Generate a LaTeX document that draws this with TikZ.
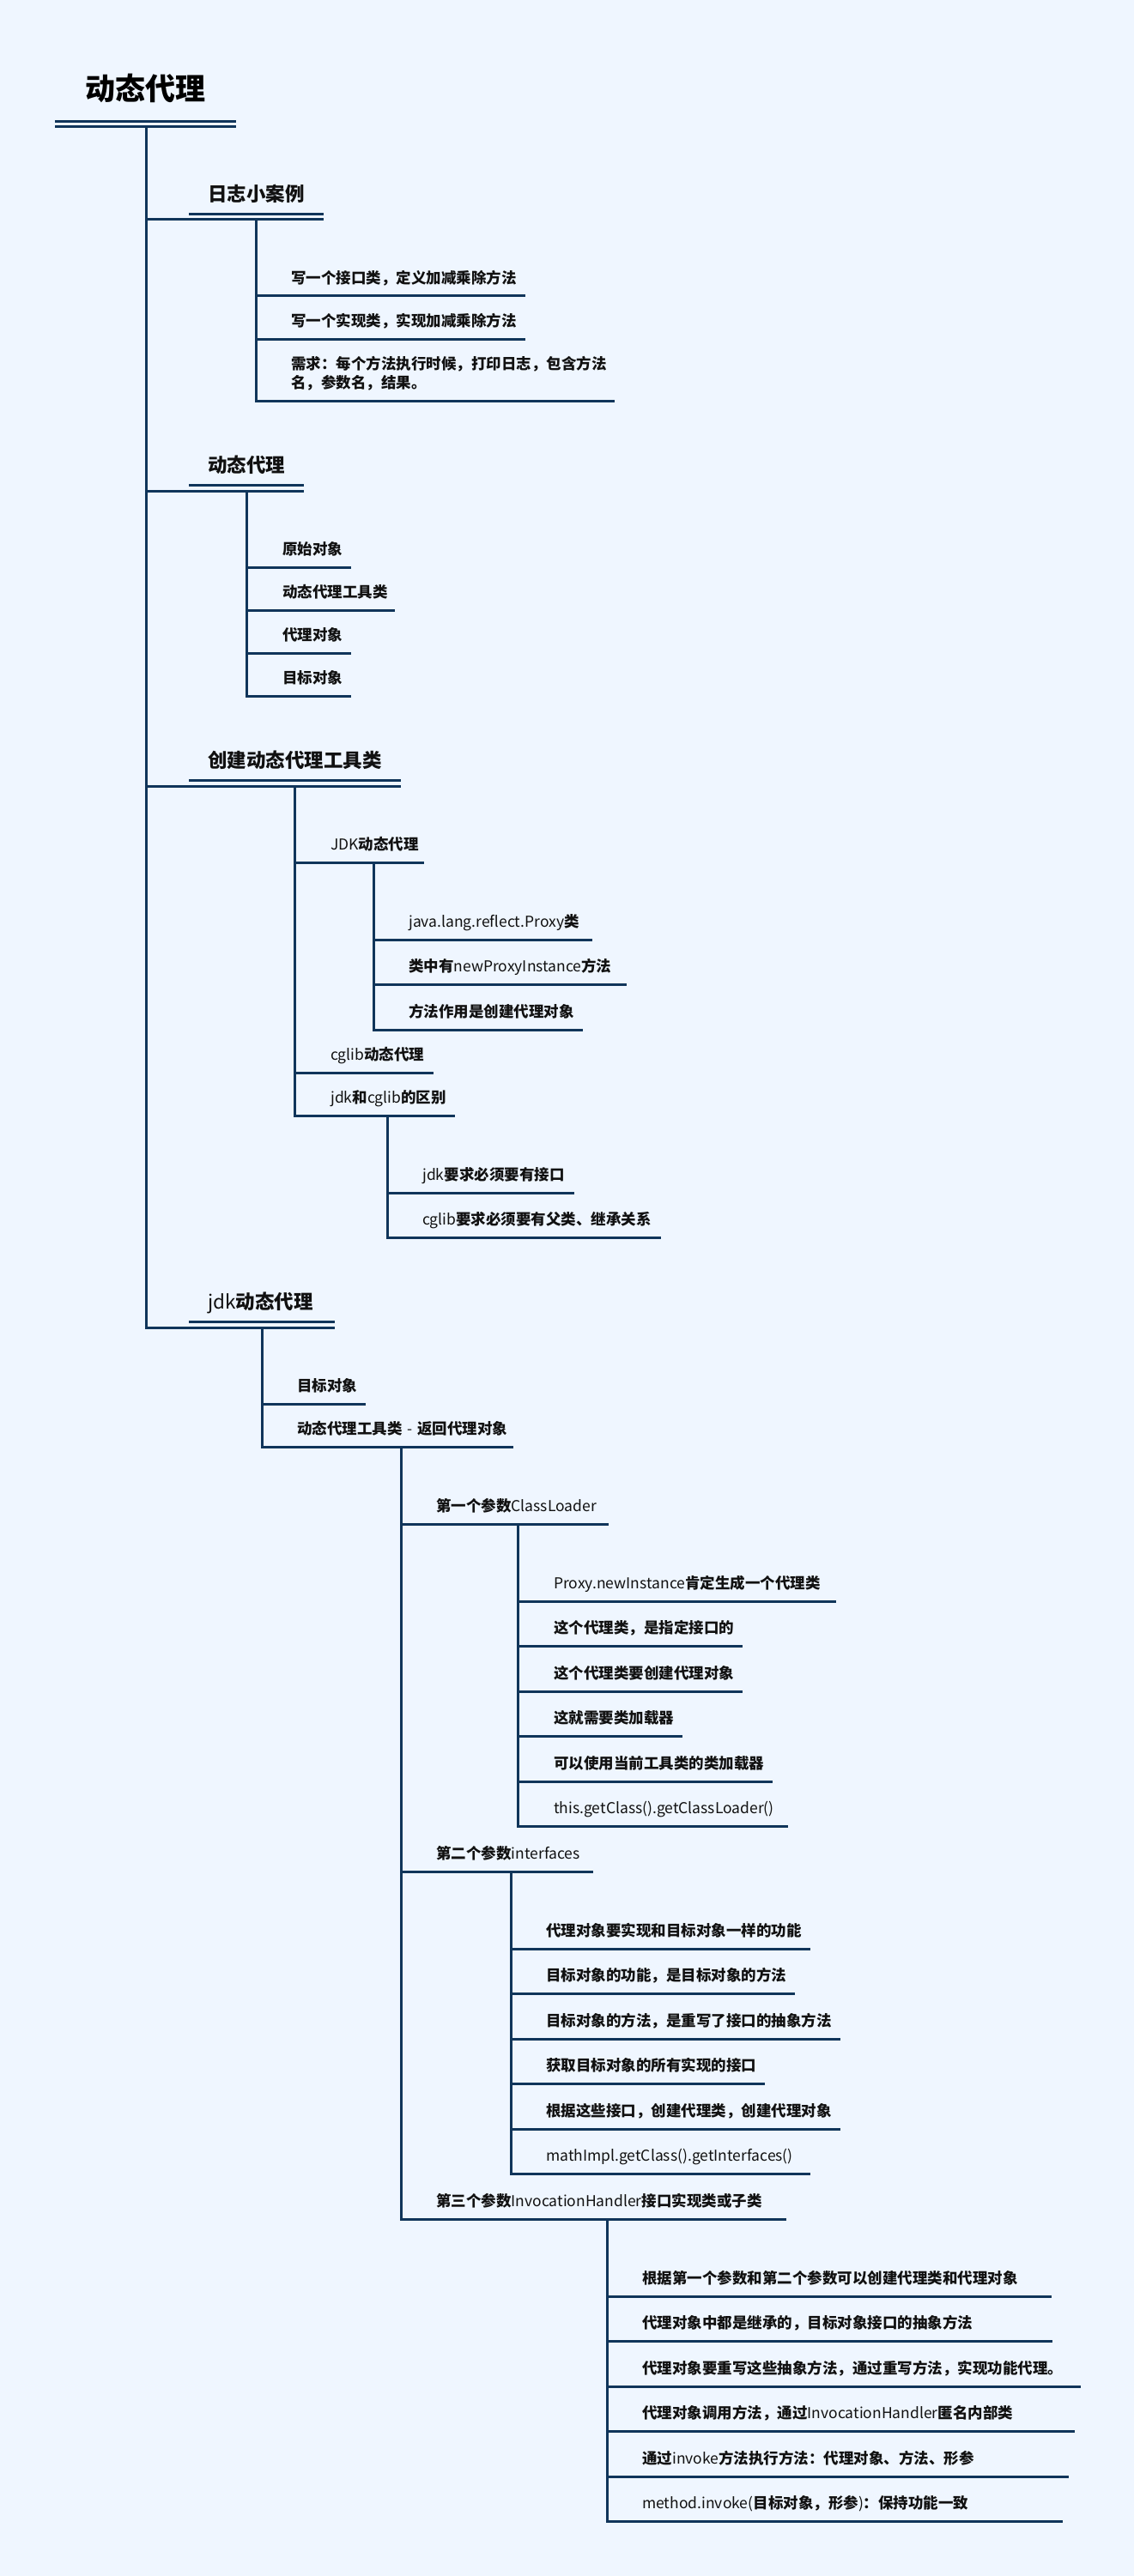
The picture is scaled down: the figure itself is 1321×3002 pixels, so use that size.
\documentclass[tikz,border=0pt]{standalone}
\usepackage{fontspec}
\newfontfamily\cjk{Noto Sans CJK SC}
\definecolor{bgc}{HTML}{EFF6FF}
\definecolor{linec}{HTML}{10355A}
\definecolor{txtc}{HTML}{111111}
\newcommand\ltn[1]{{\mdseries #1}}
\tikzset{
  conn/.style={draw=linec, line width=3pt},
  leafsty/.style={font=\cjk\bfseries\fontsize{17.5}{22}\selectfont, text=txtc,
    inner xsep=10pt, inner ysep=10pt, text depth=4pt, align=left, anchor=south west},
  secsty/.style={font=\cjk\bfseries\fontsize{22.5}{27}\selectfont, text=txtc,
    inner xsep=22pt, inner ysep=17.5pt, text depth=4pt, align=left, anchor=south west},
  rootsty/.style={font=\cjk\bfseries\fontsize{35}{40}\selectfont, text=black,
    inner xsep=35pt, inner ysep=27pt, text depth=4pt, align=left, anchor=south west}
}
% leaf: name, x-left, x-right, y of underline, text, extra lift of the text block
\newcommand\mmleafx[6]{%
  \pgfmathsetmacro\mmtw{#3-#2-20}%
  \node[leafsty, text width=\mmtw pt] (#1) at (#2,#4-#6) {#5};
  \coordinate (#1L) at ([yshift=-#6pt]#1.south west);
  \coordinate (#1R) at ([yshift=-#6pt]#1.south east);
  \draw[conn] (#1L) -- (#1R);}
\newcommand\mmleaf[5]{\mmleafx{#1}{#2}{#3}{#4}{#5}{0}}
% double-underlined heading: style, name, x-left, x-right, y, text, 2*xsep
\newcommand\mmhead[7]{%
  \pgfmathsetmacro\mmtw{#4-#3-#7}%
  \node[#1, text width=\mmtw pt] (#2) at (#3,#5) {#6};
  \coordinate (#2L) at (#2.south west);
  \draw[conn] (#2.south west) -- (#2.south east);
  \draw[conn] ([yshift=6.5pt]#2.south west) -- ([yshift=6.5pt]#2.south east);}
\begin{document}
\begin{tikzpicture}[x=1pt,y=-1pt]
\fill[bgc] (0,0) rectangle (1321,3002);
\useasboundingbox (0,0) rectangle (1321,3002);

% root
\mmhead{rootsty}{root}{64}{275}{148}{动态代理}{70}
\coordinate (rootv) at (170,148);

% level 1
\mmhead{secsty}{A}{220}{377}{256}{日志小案例}{44}
\mmhead{secsty}{B}{220}{354}{572}{动态代理}{44}
\mmhead{secsty}{C}{220}{467}{916}{创建动态代理工具类}{44}
\mmhead{secsty}{D}{220}{390}{1547}{\ltn{jdk}动态代理}{44}
\foreach \n in {A,B,C,D} \draw[conn] (rootv) |- (\n L);

% A
\coordinate (Av) at (298,256);
\mmleaf{a1}{329}{612}{345}{写一个接口类，定义加减乘除方法}
\mmleaf{a2}{329}{612}{395}{写一个实现类，实现加减乘除方法}
\mmleafx{a3}{329}{716}{467}{需求：每个方法执行时候，打印日志，包含方法\\名，参数名，结果。}{22}
\foreach \n in {a1,a2,a3} \draw[conn] (Av) |- (\n L);

% B
\coordinate (Bv) at (287,572);
\mmleaf{b1}{319}{409}{661}{原始对象}
\mmleaf{b2}{319}{460}{711}{动态代理工具类}
\mmleaf{b3}{319}{409}{761}{代理对象}
\mmleaf{b4}{319}{409}{811}{目标对象}
\foreach \n in {b1,b2,b3,b4} \draw[conn] (Bv) |- (\n L);

% C
\coordinate (Cv) at (343,916);
\mmleaf{c1}{375}{494}{1005}{\ltn{JDK}动态代理}
\mmleaf{c2}{375}{505}{1250}{\ltn{cglib}动态代理}
\mmleaf{c3}{375}{530}{1300}{\ltn{jdk}和\ltn{cglib}的区别}
\foreach \n in {c1,c2,c3} \draw[conn] (Cv) |- (\n L);

\coordinate (C1v) at (435,1005);
\mmleaf{c11}{466}{690}{1095}{\ltn{java.lang.reflect.Proxy}类}
\mmleaf{c12}{466}{730}{1147}{类中有\ltn{newProxyInstance}方法}
\mmleaf{c13}{466}{679}{1200}{方法作用是创建代理对象}
\foreach \n in {c11,c12,c13} \draw[conn] (C1v) |- (\n L);

\coordinate (C3v) at (451,1300);
\mmleaf{c31}{482}{669}{1390}{\ltn{jdk}要求必须要有接口}
\mmleaf{c32}{482}{770}{1442}{\ltn{cglib}要求必须要有父类、继承关系}
\foreach \n in {c31,c32} \draw[conn] (C3v) |- (\n L);

% D
\coordinate (Dv) at (305,1547);
\mmleaf{d1}{336}{426}{1636}{目标对象}
\mmleaf{d2}{336}{598}{1686}{\mbox{动态代理工具类 \ltn{-} 返回代理对象}}
\foreach \n in {d1,d2} \draw[conn] (Dv) |- (\n L);

\coordinate (D2v) at (467,1686);
\mmleaf{d21}{498}{709}{1776}{第一个参数\ltn{ClassLoader}}
\mmleaf{d22}{498}{691}{2181}{第二个参数\ltn{interfaces}}
\mmleaf{d23}{498}{916}{2586}{第三个参数\ltn{InvocationHandler}接口实现类或子类}
\foreach \n in {d21,d22,d23} \draw[conn] (D2v) |- (\n L);

\coordinate (D21v) at (603,1776);
\mmleaf{e1}{635}{974}{1866}{\ltn{Proxy.newInstance}肯定生成一个代理类}
\mmleaf{e2}{635}{865}{1918}{这个代理类，是指定接口的}
\mmleaf{e3}{635}{865}{1971}{这个代理类要创建代理对象}
\mmleaf{e4}{635}{795}{2023}{这就需要类加载器}
\mmleaf{e5}{635}{900}{2076}{可以使用当前工具类的类加载器}
\mmleaf{e6}{635}{918}{2128}{\ltn{this.getClass().getClassLoader()}}
\foreach \n in {e1,e2,e3,e4,e5,e6} \draw[conn] (D21v) |- (\n L);

\coordinate (D22v) at (595,2181);
\mmleaf{f1}{626}{944}{2271}{代理对象要实现和目标对象一样的功能}
\mmleaf{f2}{626}{926}{2323}{目标对象的功能，是目标对象的方法}
\mmleaf{f3}{626}{979}{2376}{目标对象的方法，是重写了接口的抽象方法}
\mmleaf{f4}{626}{891}{2428}{获取目标对象的所有实现的接口}
\mmleaf{f5}{626}{979}{2481}{根据这些接口，创建代理类，创建代理对象}
\mmleaf{f6}{626}{944}{2533}{\ltn{mathImpl.getClass().getInterfaces()}}
\foreach \n in {f1,f2,f3,f4,f5,f6} \draw[conn] (D22v) |- (\n L);

\coordinate (D23v) at (707,2586);
\mmleaf{g1}{738}{1225}{2676}{根据第一个参数和第二个参数可以创建代理类和代理对象}
\mmleaf{g2}{738}{1226}{2728}{代理对象中都是继承的，目标对象接口的抽象方法}
\mmleaf{g3}{738}{1259}{2781}{代理对象要重写这些抽象方法，通过重写方法，实现功能代理。}
\mmleaf{g4}{738}{1252}{2833}{代理对象调用方法，通过\ltn{InvocationHandler}匿名内部类}
\mmleaf{g5}{738}{1245}{2886}{通过\ltn{invoke}方法执行方法：代理对象、方法、形参}
\mmleaf{g6}{738}{1238}{2938}{\ltn{method.invoke(}目标对象，形参\ltn{)}：保持功能一致}
\foreach \n in {g1,g2,g3,g4,g5,g6} \draw[conn] (D23v) |- (\n L);
\end{tikzpicture}
\end{document}
